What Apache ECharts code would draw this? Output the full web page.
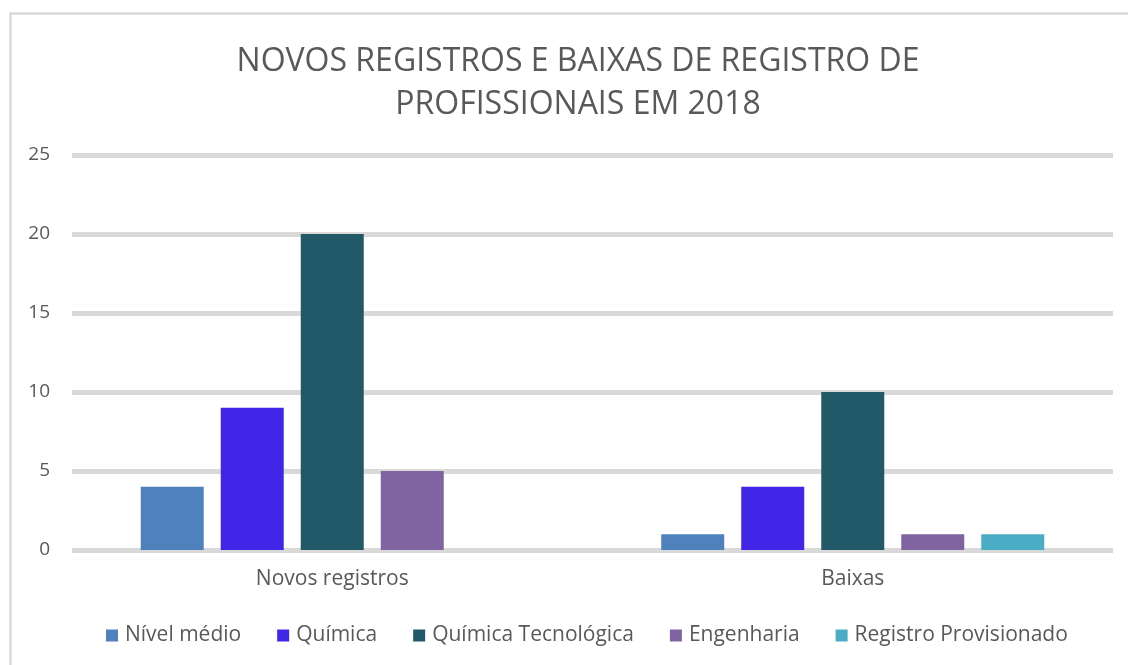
<!DOCTYPE html>
<html><head><meta charset="utf-8">
<script src="https://cdn.jsdelivr.net/npm/echarts@6/dist/echarts.min.js"></script>
<style>html,body{margin:0;padding:0;background:#fff}#c{width:1128px;height:665px}</style>
</head><body><div id="c"></div>
<script>
const categories = ['Novos registros', 'Baixas'];
const seriesNames = ['Nível médio', 'Química', 'Química Tecnológica', 'Engenharia', 'Registro Provisionado'];
const nivelMedio = [4, 1];
const quimica = [9, 4];
const quimicaTec = [20, 10];
const engenharia = [5, 1];
const registroProv = [0, 1];
const yTicks = [0, 5, 10, 15, 20, 25];
const colors = ['#4F81BD', '#4226E8', '#215968', '#8064A2', '#4BACC6'];
const values = [nivelMedio, quimica, quimicaTec, engenharia, registroProv];
const FONT = '"Open Sans", sans-serif';

const chart = echarts.init(document.getElementById('c'));
chart.setOption({
  animation: false,
  color: colors,
  graphic: [{
    type: 'rect', left: 8, top: 11, shape: { x: 0, y: 0, width: 1200, height: 700 },
    style: { fill: 'none', stroke: '#D9D9D9', lineWidth: 2.5 }, z: -10
  }],
  title: {
    text: 'NOVOS REGISTROS E BAIXAS DE REGISTRO DE\nPROFISSIONAIS EM 2018',
    left: 573, textAlign: 'center', top: 35,
    textStyle: { fontFamily: FONT, fontSize: 32, fontWeight: 'normal', color: '#595959', lineHeight: 43 }
  },
  legend: {
    top: 620, left: 101, itemWidth: 12, itemHeight: 12, itemGap: 36,
    icon: 'rect',
    textStyle: { fontFamily: FONT, fontSize: 21, color: '#595959', padding: [0, 0, 0, 2] },
    data: seriesNames
  },
  grid: { left: 72, right: 15, top: 155, bottom: 115 },
  xAxis: {
    type: 'category', data: categories,
    axisLine: { lineStyle: { color: '#D9D9D9', width: 1 } },
    axisTick: { show: false },
    axisLabel: { fontFamily: FONT, fontSize: 21, color: '#595959', margin: 19 }
  },
  yAxis: {
    type: 'value', min: yTicks[0], max: yTicks[yTicks.length - 1], interval: 5,
    axisLine: { show: false }, axisTick: { show: false },
    axisLabel: { fontFamily: FONT, fontSize: 19, color: '#595959', margin: 22 },
    splitLine: { lineStyle: { color: '#D9D9D9', width: 5 } }
  },
  series: seriesNames.map((n, i) => ({
    name: n, type: 'bar', data: values[i],
    barWidth: 63, barGap: '27%', barCategoryGap: '26%'
  }))
});
</script></body></html>
